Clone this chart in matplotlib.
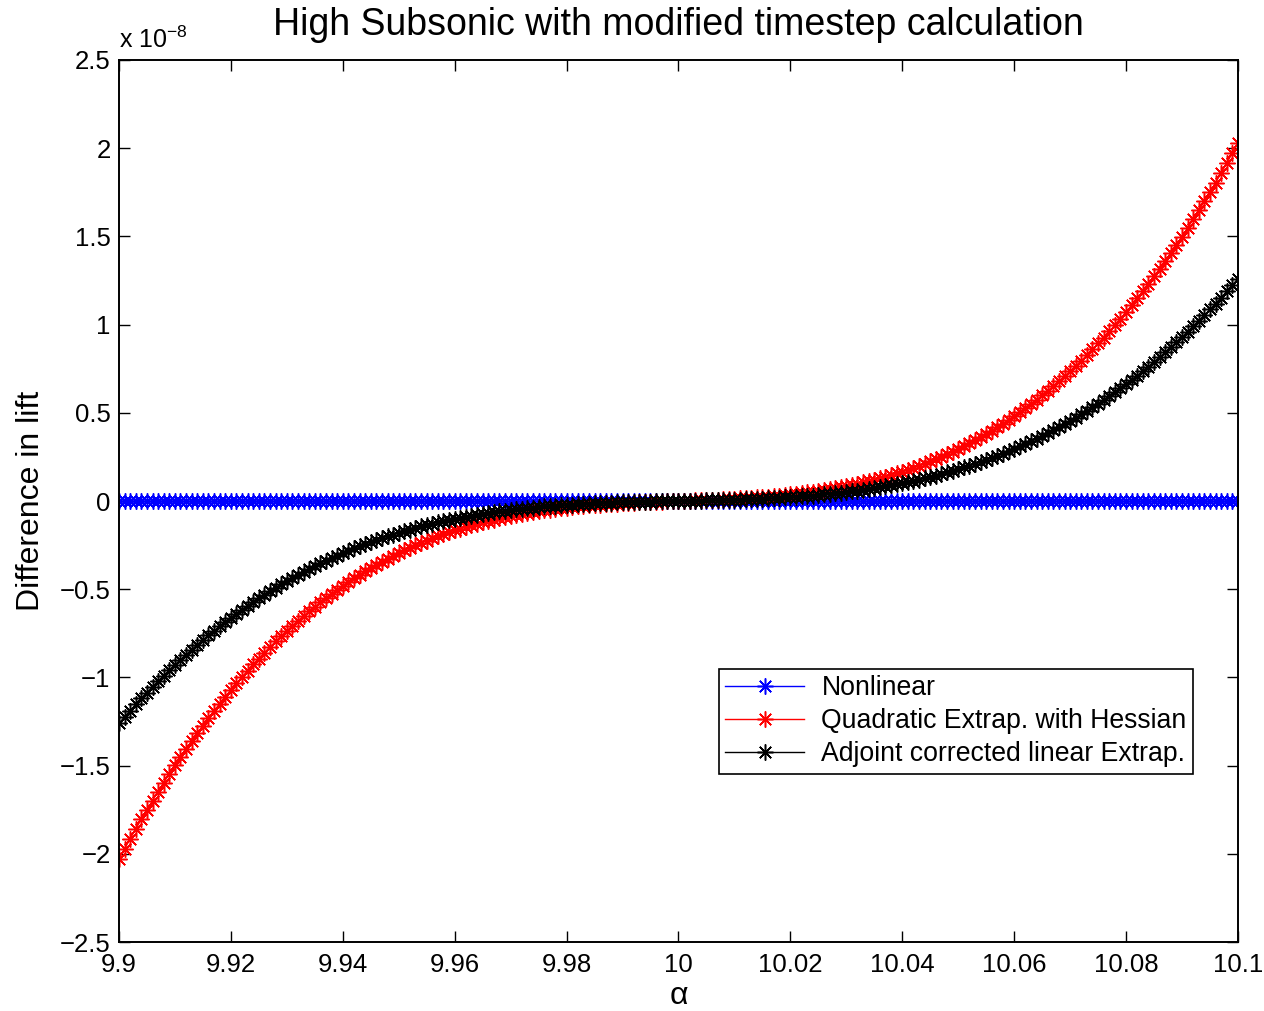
import numpy as np
import matplotlib
matplotlib.use('Agg')
import matplotlib.pyplot as plt
from matplotlib.ticker import FuncFormatter

# angle of attack samples (every 0.001 deg)
alpha = np.round(np.linspace(9.9, 10.1, 201), 3)

# difference in lift, in units of 1e-8
nonlinear = [0.0] * 201

quad_hessian = [
    -2.030, -1.972, -1.915, -1.859, -1.804, -1.751, -1.698, -1.647, -1.596, -1.547,
    -1.499, -1.451, -1.405, -1.360, -1.316, -1.273, -1.230, -1.189, -1.149, -1.109,
    -1.071, -1.034, -0.997, -0.961, -0.926, -0.893, -0.859, -0.827, -0.796, -0.765,
    -0.736, -0.707, -0.679, -0.651, -0.625, -0.599, -0.574, -0.549, -0.526, -0.503,
    -0.481, -0.459, -0.438, -0.418, -0.399, -0.380, -0.362, -0.344, -0.327, -0.311,
    -0.295, -0.280, -0.265, -0.251, -0.237, -0.224, -0.212, -0.200, -0.188, -0.177,
    -0.167, -0.157, -0.147, -0.138, -0.129, -0.121, -0.113, -0.105, -0.098, -0.091,
    -0.085, -0.079, -0.073, -0.067, -0.062, -0.058, -0.053, -0.049, -0.045, -0.041,
    -0.037, -0.034, -0.031, -0.028, -0.025, -0.023, -0.021, -0.019, -0.017, -0.015,
    -0.013, -0.011, -0.010, -0.008, -0.007, -0.006, -0.005, -0.003, -0.002, -0.001,
    0.000,
    0.001, 0.002, 0.003, 0.005, 0.006, 0.007, 0.008, 0.010, 0.011, 0.013,
    0.015, 0.017, 0.019, 0.021, 0.023, 0.025, 0.028, 0.031, 0.034, 0.037,
    0.041, 0.045, 0.049, 0.053, 0.058, 0.062, 0.067, 0.073, 0.079, 0.085,
    0.091, 0.098, 0.105, 0.113, 0.121, 0.129, 0.138, 0.147, 0.157, 0.167,
    0.177, 0.188, 0.200, 0.212, 0.224, 0.237, 0.251, 0.265, 0.280, 0.295,
    0.311, 0.327, 0.344, 0.362, 0.380, 0.399, 0.418, 0.438, 0.459, 0.481,
    0.503, 0.526, 0.549, 0.574, 0.599, 0.625, 0.651, 0.679, 0.707, 0.736,
    0.765, 0.796, 0.827, 0.859, 0.893, 0.926, 0.961, 0.997, 1.034, 1.071,
    1.109, 1.149, 1.189, 1.230, 1.273, 1.316, 1.360, 1.405, 1.451, 1.499,
    1.547, 1.596, 1.647, 1.698, 1.751, 1.804, 1.859, 1.915, 1.972, 2.030,
]

adjoint_linear = [
    -1.260, -1.224, -1.188, -1.153, -1.119, -1.086, -1.053, -1.021, -0.990, -0.959,
    -0.929, -0.899, -0.871, -0.842, -0.815, -0.788, -0.762, -0.736, -0.711, -0.686,
    -0.662, -0.639, -0.616, -0.594, -0.572, -0.551, -0.531, -0.511, -0.491, -0.472,
    -0.454, -0.436, -0.418, -0.401, -0.385, -0.369, -0.353, -0.338, -0.323, -0.309,
    -0.295, -0.282, -0.269, -0.256, -0.244, -0.233, -0.221, -0.210, -0.200, -0.190,
    -0.180, -0.171, -0.162, -0.153, -0.144, -0.136, -0.129, -0.121, -0.114, -0.107,
    -0.101, -0.095, -0.089, -0.083, -0.078, -0.072, -0.068, -0.063, -0.059, -0.054,
    -0.050, -0.047, -0.043, -0.040, -0.037, -0.034, -0.031, -0.028, -0.026, -0.024,
    -0.022, -0.020, -0.018, -0.016, -0.015, -0.013, -0.012, -0.010, -0.009, -0.008,
    -0.007, -0.006, -0.005, -0.005, -0.004, -0.003, -0.002, -0.002, -0.001, -0.001,
    0.000,
    0.001, 0.001, 0.002, 0.002, 0.003, 0.004, 0.005, 0.005, 0.006, 0.007,
    0.008, 0.009, 0.010, 0.012, 0.013, 0.015, 0.016, 0.018, 0.020, 0.022,
    0.024, 0.026, 0.028, 0.031, 0.034, 0.037, 0.040, 0.043, 0.047, 0.050,
    0.054, 0.059, 0.063, 0.068, 0.072, 0.078, 0.083, 0.089, 0.095, 0.101,
    0.107, 0.114, 0.121, 0.129, 0.136, 0.144, 0.153, 0.162, 0.171, 0.180,
    0.190, 0.200, 0.210, 0.221, 0.233, 0.244, 0.256, 0.269, 0.282, 0.295,
    0.309, 0.323, 0.338, 0.353, 0.369, 0.385, 0.401, 0.418, 0.436, 0.454,
    0.472, 0.491, 0.511, 0.531, 0.551, 0.572, 0.594, 0.616, 0.639, 0.662,
    0.686, 0.711, 0.736, 0.762, 0.788, 0.815, 0.842, 0.871, 0.899, 0.929,
    0.959, 0.990, 1.021, 1.053, 1.086, 1.119, 1.153, 1.188, 1.224, 1.260,
]

series = [
    (nonlinear, 'blue', 'Nonlinear'),
    (quad_hessian, 'red', 'Quadratic Extrap. with Hessian'),
    (adjoint_linear, 'black', 'Adjoint corrected linear Extrap.'),
]

plt.rcParams['font.family'] = ['Liberation Sans', 'DejaVu Sans']
plt.rcParams['mathtext.fontset'] = 'custom'
plt.rcParams['mathtext.rm'] = 'Liberation Sans'
plt.rcParams['mathtext.it'] = 'Liberation Sans:italic'

fig = plt.figure(figsize=(12.64, 10.11), dpi=100)
ax = fig.add_axes([0.0941, 0.0682, 0.8853, 0.8725])

# matlab style asterisk marker (8 arms)
star = (8, 2, 0)
for vals, col, name in series:
    ax.plot(alpha, vals, color=col, marker=star, ms=11.5, mew=1.1, lw=1.0, label=name)

ax.set_xlim(9.9, 10.1)
ax.set_ylim(-2.5, 2.5)
ax.set_xticks(np.round(np.arange(9.9, 10.1001, 0.02), 2))
ax.set_yticks(np.arange(-2.5, 2.51, 0.5))


def fmt(v, pos):
    return ('%g' % round(v, 3)).replace('-', '\u2212')


ax.xaxis.set_major_formatter(FuncFormatter(fmt))
ax.yaxis.set_major_formatter(FuncFormatter(fmt))
ax.tick_params(direction='in', top=True, right=True, length=8, width=1, labelsize=18.5)
ax.tick_params(axis='x', pad=8)
ax.tick_params(axis='y', pad=6)
for s in ax.spines.values():
    s.set_linewidth(1.4)

ax.set_title('High Subsonic with modified timestep calculation', fontsize=27, pad=18)
ax.set_ylabel('Difference in lift', fontsize=23, labelpad=10)
ax.set_xlabel('\u03b1', fontsize=23, labelpad=3)
ax.text(0.0, 1.008, r'x 10$^{-8}$', transform=ax.transAxes, fontsize=18,
        ha='left', va='bottom')

leg = ax.legend(loc='lower left', bbox_to_anchor=(0.536, 0.1905), fontsize=19.2,
                handlelength=2.95, handletextpad=0.65, labelspacing=0.26,
                borderpad=0.25, borderaxespad=0, fancybox=False,
                edgecolor='black', framealpha=1)
leg.get_frame().set_linewidth(1.2)

fig.savefig('out.png', dpi=100)
